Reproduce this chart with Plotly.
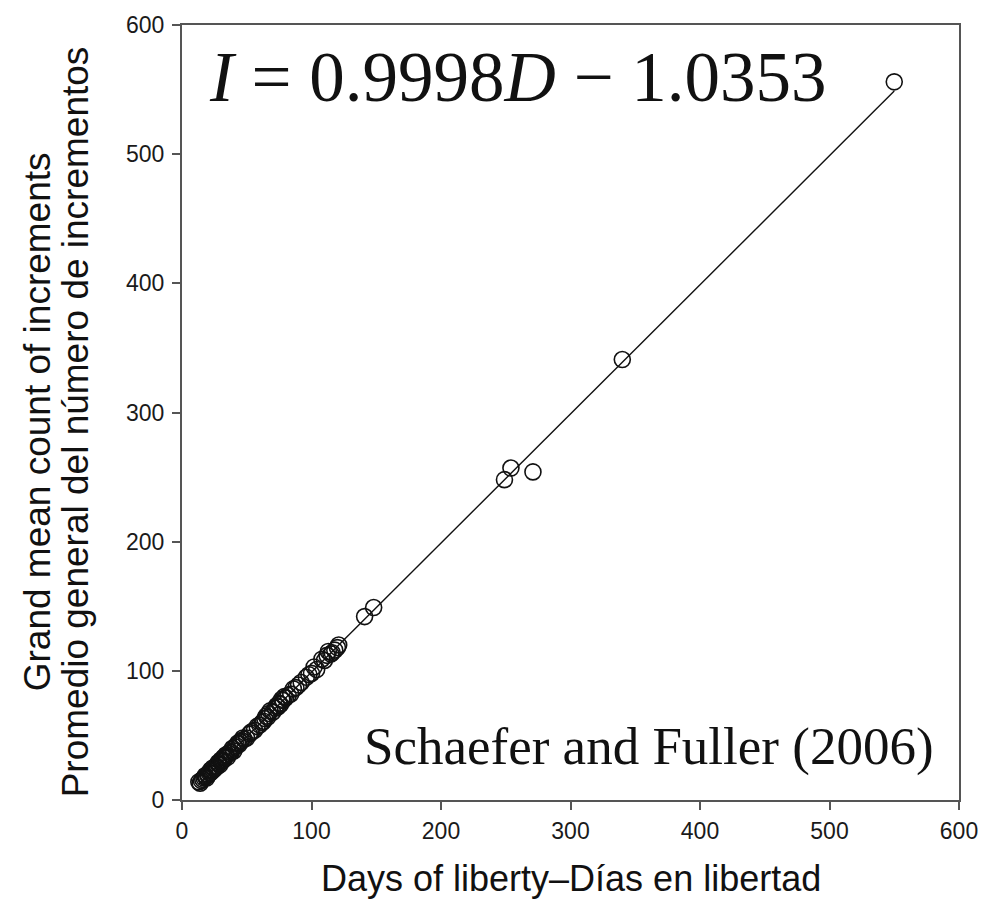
import plotly.graph_objects as go

# Days at liberty (D) and grand mean count of increments (I), one entry per fish group
days = [13, 14, 15, 16, 17, 18, 18, 19, 20, 20,
        21, 22, 22, 23, 24, 24, 25, 26, 26, 27,
        28, 28, 29, 30, 30, 31, 32, 32, 33, 34,
        34, 35, 36, 37, 38, 39, 40, 41, 42, 43,
        44, 45, 46, 47, 48, 50, 52, 53, 54, 56,
        58, 60, 62, 63, 64, 65, 66, 67, 68, 70,
        72, 73, 74, 75, 76, 77, 78, 79, 80, 82,
        84, 86, 88, 90, 92, 96, 98, 100, 102, 104,
        108, 110, 112, 113, 115, 116, 118, 120, 121, 141,
        148, 249, 254, 271, 340, 550]
increments = [14, 13, 15, 16, 17, 18, 19, 17, 19, 20,
              21, 21, 23, 22, 23, 25, 24, 26, 25, 26,
              28, 29, 27, 30, 31, 30, 31, 33, 33, 34,
              35, 33, 36, 37, 37, 40, 38, 41, 42, 44,
              43, 45, 46, 48, 47, 48, 51, 52, 53, 54,
              57, 58, 60, 61, 63, 65, 64, 67, 69, 68,
              71, 73, 72, 75, 74, 78, 77, 80, 79, 81,
              82, 86, 87, 89, 91, 95, 97, 98, 103, 101,
              109, 108, 112, 115, 113, 114, 116, 118, 120, 142,
              149, 248, 257, 254, 341, 556]

# Fitted regression I = slope * D + intercept
slope = 0.9998
intercept = -1.0353

ticks = [0, 100, 200, 300, 400, 500, 600]

fit_x = [min(days), max(days)]
fit_y = [slope * d + intercept for d in fit_x]

fig = go.Figure()
fig.add_trace(go.Scatter(
    x=fit_x, y=fit_y, mode="lines",
    line=dict(color="#111111", width=1.4),
    hoverinfo="skip", showlegend=False,
))
fig.add_trace(go.Scatter(
    x=days, y=increments, mode="markers",
    marker=dict(symbol="circle-open", size=16, color="#111111",
                line=dict(width=1.6, color="#111111")),
    showlegend=False,
))

axis_common = dict(
    range=[0, 600], tickvals=ticks, ticktext=[str(t) for t in ticks],
    showgrid=False, zeroline=False, showline=True, mirror=True,
    linecolor="#555555", linewidth=2,
    ticks="outside", ticklen=8, tickwidth=1.5, tickcolor="#555555",
    tickfont=dict(family="Liberation Sans, Arial, sans-serif", size=23,
                  color="#1a1a1a"),
)

fig.update_xaxes(**axis_common, ticklabelstandoff=1)
fig.update_yaxes(**axis_common, ticklabelstandoff=3)

title_font = dict(family="Liberation Sans, Arial, sans-serif", size=37,
                  color="#111111")

annotations = [
    dict(text="Days of liberty\u2013D\u00edas en libertad",
         xref="paper", yref="paper", x=0.5, y=-0.072,
         xanchor="center", yanchor="top", showarrow=False,
         font=dict(family="Liberation Sans, Arial, sans-serif", size=36,
                   color="#111111")),
    dict(text="Grand mean count of increments",
         xref="paper", yref="paper", x=-0.186, y=0.488,
         xanchor="center", yanchor="middle", textangle=-90,
         showarrow=False, font=title_font),
    dict(text="Promedio general del n\u00famero de incrementos",
         xref="paper", yref="paper", x=-0.137, y=0.488,
         xanchor="center", yanchor="middle", textangle=-90,
         showarrow=False, font=title_font),
    dict(text=f"<i>I</i> = {slope}<i>D</i> \u2212 {abs(intercept)}",
         xref="paper", yref="paper", x=0.032, y=0.986,
         xanchor="left", yanchor="top", showarrow=False,
         font=dict(family="Liberation Serif, Times New Roman, serif",
                   size=71, color="#111111")),
    dict(text="Schaefer and Fuller (2006)",
         xref="paper", yref="paper", x=0.970, y=0.028,
         xanchor="right", yanchor="bottom", showarrow=False,
         font=dict(family="Liberation Serif, Times New Roman, serif",
                   size=53, color="#111111")),
]

fig.update_layout(
    width=996, height=902,
    margin=dict(l=182, r=37, t=18, b=102),
    paper_bgcolor="white", plot_bgcolor="white",
    annotations=annotations,
)

fig.write_html("out.html")
